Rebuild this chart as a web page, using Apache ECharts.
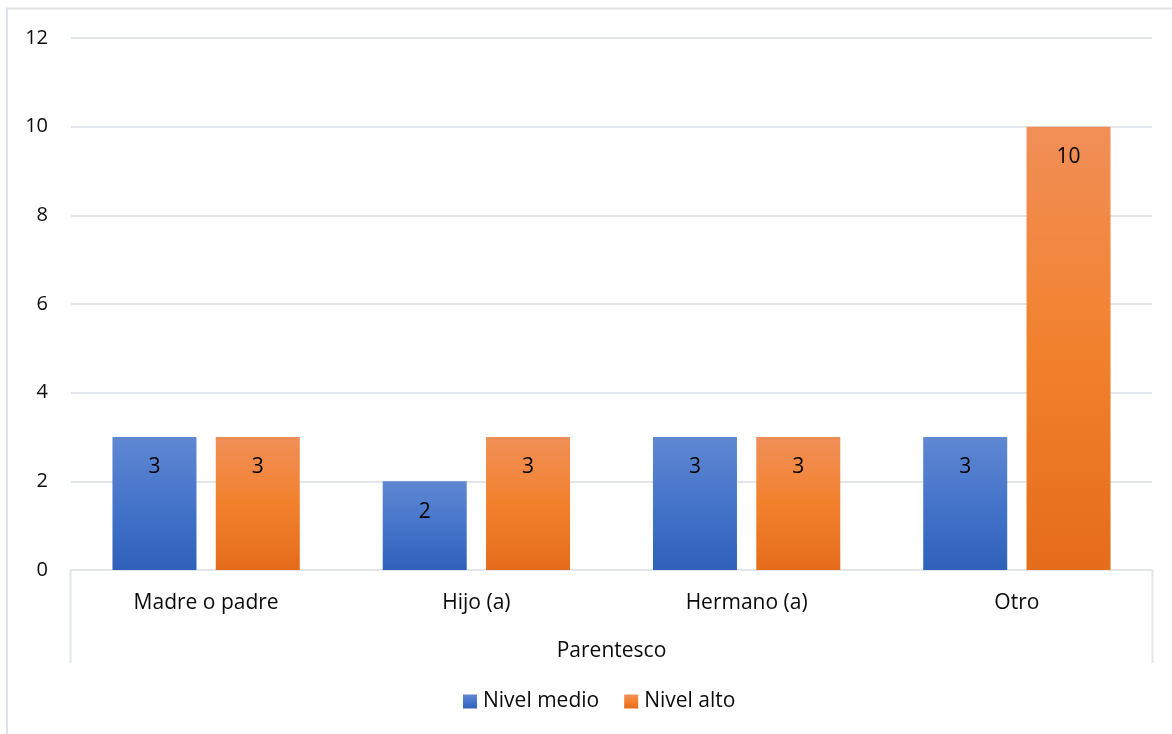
<!DOCTYPE html>
<html>
<head>
<meta charset="utf-8">
<title>Parentesco</title>
<script src="https://cdn.jsdelivr.net/npm/echarts@6/dist/echarts.min.js"></script>
<style>
  html, body { margin: 0; padding: 0; background: #ffffff; }
  #chart { width: 1172px; height: 734px; }
</style>
</head>
<body>
<div id="chart"></div>
<script>
// Categories and values
const categories = ['Madre o padre', 'Hijo (a)', 'Hermano (a)', 'Otro'];
const nivelMedio = [3, 2, 3, 3];
const nivelAlto = [3, 3, 3, 10];
const seriesNames = ['Nivel medio', 'Nivel alto'];
const axisTitle = 'Parentesco';
const yTicks = { min: 0, max: 12, interval: 2 };

const W = 1172, H = 734;
const grid = { left: 71, right: 20, top: 38, bottom: 164 };
const FONT = '"Open Sans", "Noto Sans", sans-serif';
const TEXT = '#0a0a0a';
const LINE = '#E2E5EA';

// vertical three-stop gradient, relative to each bar
function grad(top, mid, bottom) {
  return new echarts.graphic.LinearGradient(0, 0, 0, 1, [
    { offset: 0, color: top },
    { offset: 0.5, color: mid },
    { offset: 1, color: bottom }
  ]);
}

const labelStyle = {
  show: true,
  position: 'insideTop',
  distance: 20,
  color: '#000000',
  fontFamily: FONT,
  fontSize: 21
};

const chart = echarts.init(document.getElementById('chart'), null, { renderer: 'canvas' });

const plotLeft = grid.left;
const plotRight = W - grid.right;
const plotBottom = H - grid.bottom;
const boxBottom = 663;

chart.setOption({
  animation: false,
  backgroundColor: '#ffffff',
  textStyle: { fontFamily: FONT },
  grid: grid,
  legend: {
    bottom: 17,
    left: 458,
    itemWidth: 14,
    itemHeight: 14,
    itemGap: 25,
    icon: 'rect',
    textStyle: { fontFamily: FONT, fontSize: 21, color: TEXT, padding: [0, 0, 0, 1] },
    data: seriesNames
  },
  xAxis: {
    type: 'category',
    data: categories,
    name: axisTitle,
    nameLocation: 'middle',
    nameGap: 71,
    nameTextStyle: { fontFamily: FONT, fontSize: 21, color: TEXT },
    axisLine: { show: true, lineStyle: { color: LINE, width: 2 } },
    axisTick: { show: false },
    axisLabel: { fontFamily: FONT, fontSize: 21, color: TEXT, margin: 23 }
  },
  yAxis: {
    type: 'value',
    min: yTicks.min,
    max: yTicks.max,
    interval: yTicks.interval,
    axisLine: { show: false },
    axisTick: { show: false },
    axisLabel: { fontFamily: FONT, fontSize: 20, color: TEXT, margin: 23 },
    splitLine: { lineStyle: { color: LINE, width: 2 } }
  },
  series: [
    {
      name: seriesNames[0],
      type: 'bar',
      data: nivelMedio,
      barWidth: 84,
      barGap: '23%',
      itemStyle: { color: grad('#6088D2', '#4574CA', '#2F61BA') },
      label: labelStyle
    },
    {
      name: seriesNames[1],
      type: 'bar',
      data: nivelAlto,
      barWidth: 84,
      itemStyle: { color: grad('#F18F58', '#F2812D', '#E46C1A') },
      label: labelStyle
    }
  ],
  graphic: [
    // outer chart frame
    {
      type: 'rect',
      silent: true,
      shape: { x: 7, y: 8.5, width: W + 20, height: H + 20 },
      style: { fill: 'none', stroke: '#DFE2E7', lineWidth: 2 }
    },
    // category axis box sides
    {
      type: 'line',
      silent: true,
      shape: { x1: plotLeft - 0.5, y1: plotBottom, x2: plotLeft - 0.5, y2: boxBottom },
      style: { stroke: LINE, lineWidth: 2 }
    },
    {
      type: 'line',
      silent: true,
      shape: { x1: plotRight + 0.5, y1: plotBottom, x2: plotRight + 0.5, y2: boxBottom },
      style: { stroke: LINE, lineWidth: 2 }
    }
  ]
});
</script>
</body>
</html>
